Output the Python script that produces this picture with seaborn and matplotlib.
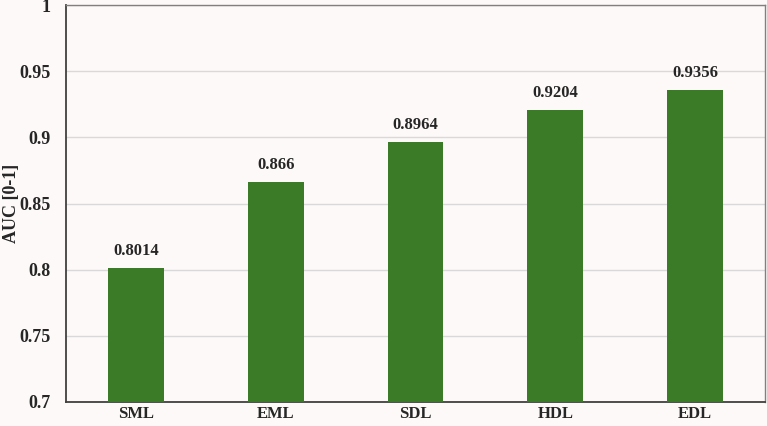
import matplotlib
matplotlib.use('Agg')
import matplotlib.pyplot as plt
import seaborn as sns
import pandas as pd

models = ['SML', 'EML', 'SDL', 'HDL', 'EDL']
auc_vals = [0.8014, 0.866, 0.8964, 0.9204, 0.9356]
auc_labels = ['0.8014', '0.866', '0.8964', '0.9204', '0.9356']
yticks = [0.7, 0.75, 0.8, 0.85, 0.9, 0.95, 1.0]
ytick_labels = ['0.7', '0.75', '0.8', '0.85', '0.9', '0.95', '1']

df = pd.DataFrame({'Model': models, 'AUC': auc_vals})

sns.set_theme(style="white")
plt.rcParams['font.family'] = ['Liberation Serif', 'DejaVu Serif']
bg = '#fdf9f8'

fig = plt.figure(figsize=(7.67, 4.26), dpi=100, facecolor=bg)
ax = fig.add_axes([66/767, 24/426, 699/767, 397/426])
ax.set_facecolor(bg)

sns.barplot(data=df, x='Model', y='AUC', color='#3b7a27', width=0.4, saturation=1,
            linewidth=0, ax=ax, zorder=3)

ax.set_ylim(0.7, 1.0)
ax.set_yticks(yticks)
ax.set_yticklabels(ytick_labels, fontsize=13, fontweight='bold')
ax.set_xticks(range(len(models)))
ax.set_xticklabels(models, fontsize=12, fontweight='bold')
ax.tick_params(axis='y', length=0, pad=11)
ax.tick_params(axis='x', length=0, pad=3)
ax.yaxis.grid(True, color='#d9d9d9', linewidth=1, zorder=0)
ax.set_axisbelow(True)
ax.set_xlabel('')
ax.set_ylabel('AUC [0-1]', fontsize=13, fontweight='bold')
ax.yaxis.set_label_coords(-0.066, 0.5)

for i, (v, lbl) in enumerate(zip(auc_vals, auc_labels)):
    ax.text(i, v + 0.007, lbl, ha='center', va='bottom', fontsize=12, fontweight='bold')

for s in ['left', 'bottom']:
    ax.spines[s].set_color('#404040')
    ax.spines[s].set_linewidth(1.3)
for s in ['top', 'right']:
    ax.spines[s].set_color('#808080')
    ax.spines[s].set_linewidth(1.0)

plt.savefig('out.png', dpi=100, facecolor=bg)
plt.close()
